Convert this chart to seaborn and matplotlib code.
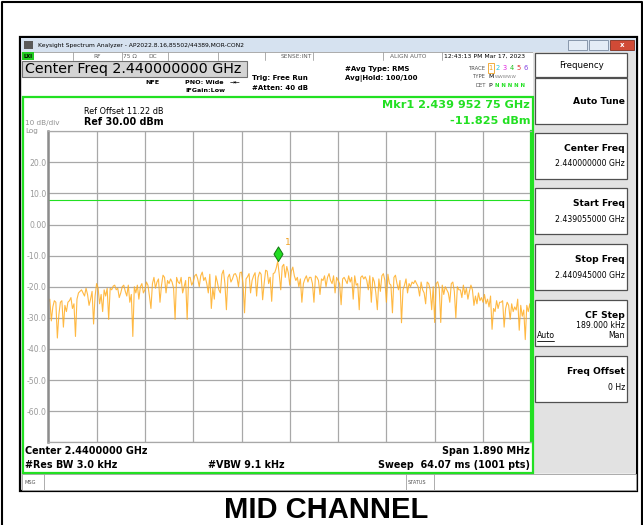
import numpy as np
import matplotlib
matplotlib.use("Agg")
import matplotlib.pyplot as plt
import seaborn as sns
from matplotlib.patches import Rectangle

# sweep settings (GHz) and trace, dBm
start_ghz = 2.439055
stop_ghz = 2.440945
level_dbm = [
    -25, -24, -31, -26.5, -24.5, -25, -36.5, -29, -25, -24.5, -33, -26, -28, -25, -24.5, -23.5, -27, -25.5, -36, -24,
    -22, -21.5, -21, -22, -23, -20.5, -22.5, -26, -24, -21.5, -32, -23, -19, -20.5, -25.5, -22.5, -28, -21, -23, -20.5,
    -30.5, -20.5, -21, -19.8, -19.5, -21, -20.5, -23.5, -22, -20, -19.5, -21.5, -23, -19.5, -25, -22.5, -36, -20, -22, -19.5,
    -24, -20, -19, -22, -21, -18.5, -19.5, -23, -27, -19, -17, -20.5, -18.5, -17.5, -25, -19.5, -16.3, -17, -22, -18,
    -19, -17.5, -18.5, -20.5, -30.5, -17, -18.5, -19, -17, -22, -20, -18, -30.5, -17, -17, -19.5, -18.5, -16.5, -16, -17.5,
    -20, -16.5, -15.3, -18, -17, -19, -22, -16, -27, -20.5, -24, -16.5, -18.5, -21, -22, -16, -14.7, -19, -27.4, -17,
    -16, -18.5, -17.5, -16, -15.8, -17, -20, -15.5, -15.3, -19, -28.4, -17.5, -16.8, -15.8, -22, -18, -16.5, -15.5, -23, -17,
    -15.3, -16, -24.2, -19, -14.7, -15, -19, -17, -24.7, -15.8, -15.5, -14, -11.825, -16, -21, -13.5, -12.8, -17, -13.5, -15.5,
    -19.5, -15, -13.7, -16.5, -18, -17, -20, -17.5, -25, -19, -17.5, -16.5, -18.5, -17, -17, -19, -25, -16.5, -17, -18,
    -22.5, -17.5, -18, -16.5, -20, -17, -15.8, -18, -19, -16.5, -22, -17, -18, -19, -25.8, -17.5, -17, -18, -19, -16.5,
    -18.5, -17, -24, -16.5, -19.5, -19, -27.4, -17, -16.5, -17.5, -16.8, -18, -21, -16.5, -25, -17, -18.4, -22, -27.4, -17.5,
    -21.5, -16.5, -15.8, -18, -25, -16, -19, -19.5, -28.4, -17, -16.3, -19, -21, -18, -31.6, -21, -19.5, -17.5, -22, -19,
    -20, -18.5, -19, -18, -19, -20, -23, -18.5, -21, -22, -25.5, -18.5, -19, -21, -27.4, -20, -31.5, -19, -18.4, -20.5,
    -31.5, -19.5, -22.5, -20, -21, -22, -25, -19, -18.5, -21.5, -30, -20, -21, -21, -23.5, -19.5, -22.5, -20.5, -24, -21.5,
    -19.5, -21, -26, -23, -25.5, -22, -24.5, -23.5, -25, -22.5, -25.5, -24, -26.5, -23, -33.7, -27, -28, -24.5, -27, -25,
    -25, -24.5, -33, -27, -25, -26, -30.5, -25.5, -28, -26.5, -27.5, -24, -34, -26, -29.5, -27.5, -37, -26, -28, -25.5,
    -28.5,
]
marker_idx = 152
ytick_vals = [30, 20, 10, 0, -10, -20, -30, -40, -50, -60, -70]
ytick_labels = ["", "20.0", "10.0", "0.00", "-10.0", "-20.0", "-30.0",
                "-40.0", "-50.0", "-60.0", ""]
display_line = 8.0

softkeys = [("Auto Tune", None), ("Center Freq", "2.440000000 GHz"),
            ("Start Freq", "2.439055000 GHz"), ("Stop Freq", "2.440945000 GHz"),
            ("CF Step", "189.000 kHz"), ("Freq Offset", "0 Hz")]
trace_nums = ["1", "2", "3", "4", "5", "6"]
trace_cols = ["#f0a020", "#20c8e0", "#e020e0", "#20c020", "#e03030", "#8040e0"]

freq = np.linspace(start_ghz, stop_ghz, len(level_dbm))

sns.set_style("white")
plt.rcParams['font.family'] = ['DejaVu Sans']

GREEN = "#22e022"
fig = plt.figure(figsize=(6.43, 5.25), dpi=100)

# pixel canvas for the screen furniture
ui = fig.add_axes([0, 0, 1, 1])
ui.set_xlim(0, 643)
ui.set_ylim(525, 0)
ui.axis("off")


def box(x0, y0, x1, y1, fc, ec="none", lw=0.8, z=1):
    ui.add_patch(Rectangle((x0, y0), x1 - x0, y1 - y0, facecolor=fc,
                           edgecolor=ec, lw=lw, zorder=z))


def txt(x, y, s, size=6, weight="normal", color="black", ha="left", **kw):
    ui.text(x, y, s, fontsize=size, fontweight=weight, color=color, ha=ha,
            va="center", zorder=5, **kw)


# page frame
ui.plot([1.5, 1.5, 641.5, 641.5], [525, 1.5, 1.5, 525], color="black", lw=1.5)

# window
box(20, 37, 637, 491, "#ececec", "black", 1.6)
box(21, 38, 636, 52, "#d6e2f0")
box(24, 41, 33, 49, "#5a5a5a")
txt(38, 45.5, "Keysight Spectrum Analyzer - AP2022.8.16,85502/44389,MOR-CON2", 4.3)
box(568, 40, 587, 50, "#e4ecf6", "#7a8aa0", 0.6)
box(589, 40, 608, 50, "#e4ecf6", "#7a8aa0", 0.6)
box(610, 40, 634, 50, "#d04a36", "#803020", 0.6)
txt(622, 45, "x", 5, "bold", "white", ha="center")

# status row
box(22, 52, 533, 60, "white", "#a0a0a0", 0.6)
box(22, 52, 34, 60, "#22cc22")
txt(23, 56, "LXI", 3.6, "bold")
for xs in [73, 122, 168, 218, 265, 313, 383, 442]:
    ui.plot([xs, xs], [52, 60], color="#a0a0a0", lw=0.6)
txt(97, 56, "RF", 4.2, color="#606060", ha="center")
txt(130, 56, "75 \u03a9", 4.2, color="#606060", ha="center")
txt(153, 56, "DC", 4.2, color="#606060", ha="center")
txt(312, 56, "SENSE:INT", 4.2, color="#606060", ha="right")
txt(408, 56, "ALIGN AUTO", 4.2, color="#606060", ha="center")
txt(444, 56, "12:43:13 PM Mar 17, 2023", 4.4)

# settings block
box(22, 60, 533, 96, "white")
box(22, 61, 247, 77, "#d4d4d4", "#707070", 0.8)
txt(25, 69.5, "Center Freq 2.440000000 GHz", 10.3)
txt(145, 82, "NFE", 4.6, "bold")
txt(185, 82, "PNO: Wide", 4.6, "bold")
txt(230, 82, "\u2192\u2190", 4.6)
txt(185, 91, "IFGain:Low", 4.6, "bold")
txt(252, 78, "Trig: Free Run", 5.0, "bold")
txt(252, 88.5, "#Atten: 40 dB", 5.0, "bold")
txt(345, 68.5, "#Avg Type: RMS", 5.0, "bold")
txt(345, 78.5, "Avg|Hold: 100/100", 5.0, "bold")
txt(486, 68, "TRACE", 3.8, color="#505050", ha="right")
txt(486, 77, "TYPE", 3.8, color="#505050", ha="right")
txt(486, 85.5, "DET", 3.8, color="#505050", ha="right")
box(487.5, 63, 494, 73, "none", "#f0a020", 0.6)
for k, (num, col) in enumerate(zip(trace_nums, trace_cols)):
    txt(490.8 + 7 * k, 68, num, 4.8, color=col, ha="center")
txt(488, 77, "M", 4.4)
txt(495, 77, "WWWWW", 3.2, color="#808080")
txt(488, 85.5, "P", 4.4)
txt(495, 85.5, "N N N N N", 3.9, "bold", GREEN)

# display area
box(22.5, 96.5, 532.5, 472.5, "white", GREEN, 1.6, z=1.5)
txt(84, 111, "Ref Offset 11.22 dB", 5.9)
txt(84, 122, "Ref 30.00 dBm", 6.9, "bold")
txt(25, 123.5, "10 dB/div", 5.2, color="#909090")
txt(25, 131, "Log", 5.2, color="#909090")
txt(530, 105, "Mkr1 2.439 952 75 GHz", 8.1, "bold", GREEN, ha="right")
txt(530, 120.5, "-11.825 dBm", 8.1, "bold", GREEN, ha="right")
txt(528, 195, "8.00 dBm", 3.6, color=GREEN, ha="right")
txt(25, 450.5, "Center 2.4400000 GHz", 6.9, "bold")
txt(530, 450.5, "Span 1.890 MHz", 6.9, "bold", ha="right")
txt(25, 464.5, "#Res BW 3.0 kHz", 6.9, "bold")
txt(208, 464.5, "#VBW 9.1 kHz", 6.9, "bold")
txt(530, 464.5, "Sweep  64.07 ms (1001 pts)", 6.9, "bold", ha="right")

# message bar
box(22, 474, 636, 490, "white", "#a0a0a0", 0.6)
ui.plot([44, 44], [474, 490], color="#a0a0a0", lw=0.6)
ui.plot([406, 406], [474, 490], color="#a0a0a0", lw=0.6)
ui.plot([434, 434], [474, 490], color="#a0a0a0", lw=0.6)
txt(24.5, 482, "MSG", 3.6, color="#505050")
txt(408, 482, "STATUS", 3.6, color="#505050")

# softkey panel
box(533, 52, 636, 473, "#e2e2e2")
box(535, 53, 627, 76.5, "white", "#505050", 0.9)
txt(581, 65, "Frequency", 6.2, ha="center")
key_tops = [78, 133, 188, 244, 300, 356]
for (label, value), top in zip(softkeys, key_tops):
    box(535, top, 627, top + 46, "white", "#505050", 0.9)
    if value is None:
        txt(625, top + 23.5, label, 6.6, "bold", ha="right")
    elif label == "CF Step":
        txt(625, top + 15, label, 6.6, "bold", ha="right")
        txt(625, top + 25, value, 5.6, ha="right")
        txt(537, top + 36, "Auto", 5.6)
        ui.plot([537, 554], [top + 40.5, top + 40.5], color="black", lw=0.6)
        txt(625, top + 36, "Man", 5.6, ha="right")
    else:
        txt(625, top + 15.5, label, 6.6, "bold", ha="right")
        txt(625, top + 31, value, 5.6, ha="right")

# caption
ui.text(326, 510, "MID CHANNEL", fontsize=21, fontweight="bold", color="black",
        family=["Liberation Sans Narrow", "Liberation Sans"],
        ha="center", va="center")

# trace axes
ax = fig.add_axes([48.3 / 643, 1 - 442.2 / 525, 483 / 643, 311 / 525])
ax.set_facecolor("white")
sns.lineplot(x=freq, y=level_dbm, ax=ax, color="#ffad22", lw=0.8, alpha=0.85)
ax.axhline(display_line, color=GREEN, lw=0.8)
diamond = [(0, 0), (0.62, 1.0), (0, 2.0), (-0.62, 1.0), (0, 0)]
ax.plot(freq[marker_idx], level_dbm[marker_idx], marker=diamond, ms=21,
        mfc="#22dd22", mec="#117711", mew=0.7, ls="none")
ax.annotate("1", (freq[marker_idx], level_dbm[marker_idx]), xytext=(5, 12),
            textcoords="offset points", color="#f0a020", fontsize=6.5)

ax.set_xlim(start_ghz, stop_ghz)
ax.set_ylim(-70, 30)
ax.set_xticks(np.linspace(start_ghz, stop_ghz, 11))
ax.set_xticklabels([])
ax.set_yticks(ytick_vals)
ax.set_yticklabels(ytick_labels)
ax.tick_params(length=0, labelsize=5.6, labelcolor="#9a9a9a", pad=1.5)
ax.grid(True, color="#a8a8a8", lw=0.9)
ax.set_axisbelow(True)
for side in ["top", "bottom"]:
    ax.spines[side].set_color("#a8a8a8")
    ax.spines[side].set_linewidth(0.9)
ax.spines["left"].set_color("#8c8c8c")
ax.spines["left"].set_linewidth(1.8)
ax.spines["right"].set_color(GREEN)
ax.spines["right"].set_linewidth(1.6)

fig.savefig("out.png", dpi=100)
